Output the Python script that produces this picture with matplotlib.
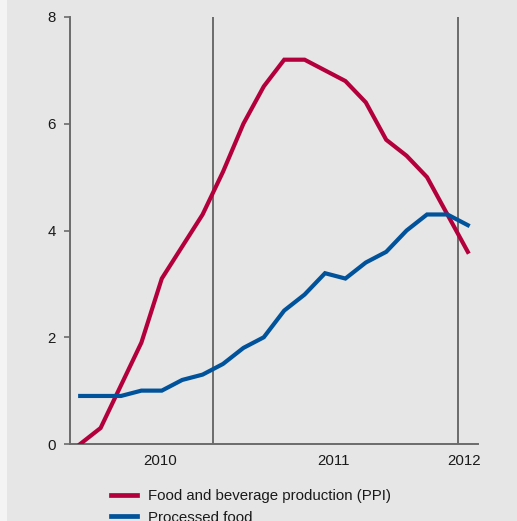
import matplotlib
matplotlib.use("Agg")
import matplotlib.pyplot as plt
from matplotlib.patches import Rectangle
from matplotlib.lines import Line2D

plt.rcParams['font.family'] = ['Liberation Sans', 'DejaVu Sans']

# Data (monthly observations)
ppi_food_beverage = [0.0, 0.3, 1.1, 1.9, 3.1, 3.7, 4.3, 5.1, 6.0, 6.7,
                     7.2, 7.2, 7.0, 6.8, 6.4, 5.7, 5.4, 5.0, 4.3, 3.6]
processed_food = [0.9, 0.9, 0.9, 1.0, 1.0, 1.2, 1.3, 1.5, 1.8, 2.0,
                  2.5, 2.8, 3.2, 3.1, 3.4, 3.6, 4.0, 4.3, 4.3, 4.1]
year_labels = ["2010", "2011", "2012"]
y_ticks = [0, 2, 4, 6, 8]
series_labels = ["Food and beverage production (PPI)", "Processed food"]

RED = "#b3003c"
BLUE = "#00529b"
BG = "#e6e6e6"
GRID = "#6b6b6b"

fig = plt.figure(figsize=(5.17, 5.21), dpi=100, facecolor=BG)
fig.patches.append(Rectangle((0, 0), 7 / 517, 1, transform=fig.transFigure,
                             facecolor="#f4f4f4", edgecolor="none", zorder=0))

ax = fig.add_axes([70 / 517, 1 - 444 / 521, 408 / 517, 427 / 521])
ax.set_facecolor(BG)

x = list(range(len(ppi_food_beverage)))
ax.plot(x, ppi_food_beverage, color=RED, lw=3.0, solid_joinstyle='miter', zorder=3)
ax.plot(x, processed_food, color=BLUE, lw=3.0, solid_joinstyle='miter', zorder=3)

for xv in (6.5, 18.5):
    ax.axvline(xv, color=GRID, lw=1.4, zorder=2)

ax.set_xlim(-0.5, 19.5)
ax.set_ylim(0, 8)

for s in ("top", "right"):
    ax.spines[s].set_visible(False)
for s in ("left", "bottom"):
    ax.spines[s].set_color(GRID)
    ax.spines[s].set_linewidth(1.4)

ax.set_yticks(y_ticks)
ax.set_yticklabels([str(v) for v in y_ticks])
ax.tick_params(axis='y', length=4, width=1.2, color=GRID, pad=6,
               labelsize=10.8, labelcolor="#1a1a1a")
ax.set_xticks([3.9, 12.4, 18.8])
ax.set_xticklabels(year_labels)
ax.tick_params(axis='x', length=0, pad=7, labelsize=10.8, labelcolor="#1a1a1a")

handles = [Line2D([], [], color=RED, lw=3.4), Line2D([], [], color=BLUE, lw=3.4)]
fig.legend(handles, series_labels, loc='upper left',
           bbox_to_anchor=(111 / 517, 1 - 489 / 521), frameon=False,
           borderpad=0, borderaxespad=0, handlelength=1.72, handletextpad=0.72,
           labelspacing=0.5, fontsize=10.8, labelcolor="#1a1a1a")

fig.savefig("out.png", dpi=100, facecolor=BG)
